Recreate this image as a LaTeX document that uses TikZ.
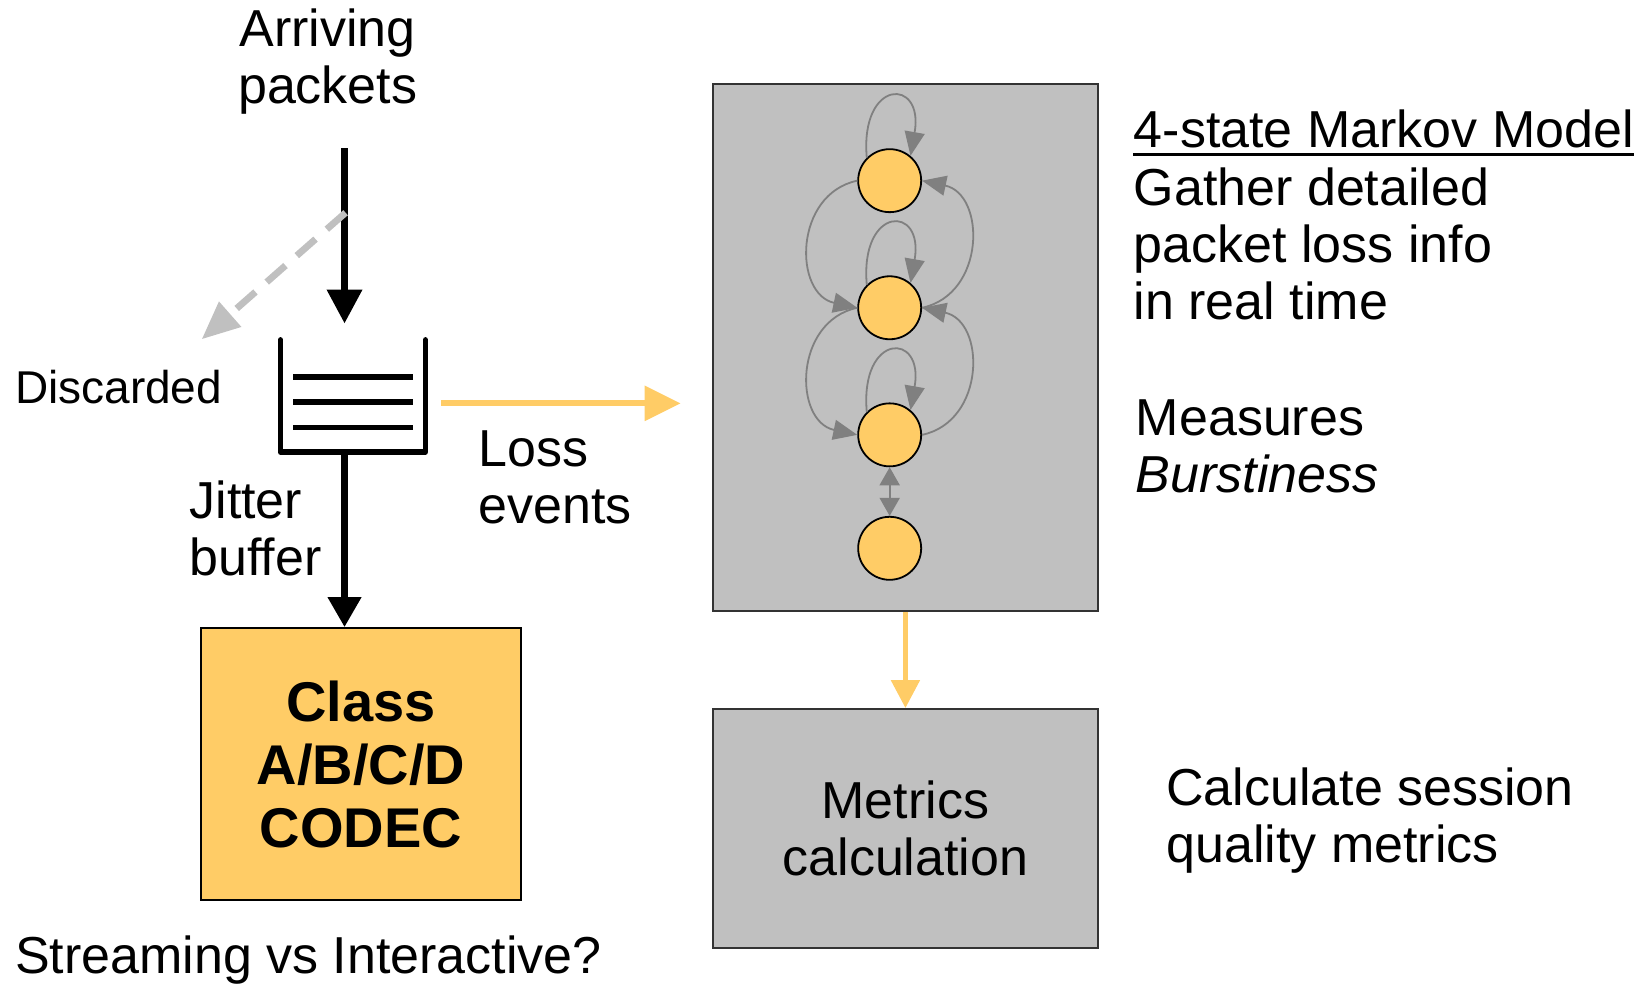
\documentclass[tikz,border=0pt]{standalone}
\usepackage{fontspec}
\setmainfont{Liberation Sans}
\usepackage{xcolor}
\definecolor{vizCodec}{HTML}{FFCC66}
\definecolor{vizPanel}{HTML}{C0C0C0}
\definecolor{vizEdge}{HTML}{808080}
\usetikzlibrary{arrows.meta}

\begin{document}
\begin{tikzpicture}[x=0.5252pt, y=0.5252pt,
  every node/.style={inner sep=0pt, font=\fontsize{26}{28.5}\selectfont},
  txt/.style={align=left, anchor=north west},
  panel/.style={draw=black!80, line width=1pt, fill=vizPanel},
  state/.style={circle, draw, line width=0.9pt, fill=vizCodec, minimum size=31.5pt},
  trans/.style={vizEdge, line width=0.9pt, -{Triangle[length=12pt,width=10pt]}},
  flow/.style={line width=3.5pt, -{Triangle[length=17pt,width=17pt]}},
  feed/.style={vizCodec, line width=3pt, -{Triangle[length=18pt,width=17pt]}},
  bucket/.style={line width=2.8pt, line join=round, line cap=round}]
  \useasboundingbox (0,0) rectangle (1568,-937);

  % arriving stream and jitter buffer
  \node[align=center, anchor=north] (arriving) at (312,-8) {Arriving\\packets};
  \coordinate (inlet) at (328,-141);
  \coordinate (inlettip) at (328,-308);
  \coordinate (drop) at (329,-202.5);
  \coordinate (dropend) at (192,-323);
  \node[txt, font=\fontsize{23}{26}\selectfont] (discarded) at (14,-352) {Discarded};
  \node[minimum width=72pt, minimum height=55.7pt] (buffer) at (336,-377) {};
  \node[txt] (jitter) at (180,-457) {Jitter\\buffer};
  \node[draw, line width=1pt, fill=vizCodec, minimum width=160.2pt, minimum height=136pt,
    align=center, font=\fontsize{28}{31.5}\selectfont\bfseries] (codec) at (343.5,-727.5) {Class\\A/B/C/D\\CODEC};
  \node[txt] (streaming) at (14,-891) {Streaming vs Interactive?};

  \draw[flow] (inlet) -- (inlettip);
  \draw[vizPanel, line width=3.4pt, dash pattern=on 12.5pt off 7.5pt,
    -{Triangle[length=19pt,width=16pt]}] (drop) -- (dropend);
  \draw[bucket] (buffer.north west) -- (buffer.south west) -- (buffer.south east) -- (buffer.north east);
  \foreach \y in {359,383,407}
    \draw[line width=2.8pt] (279,-\y) -- (393.5,-\y);
  \draw[flow, -{Triangle[length=15pt,width=16pt]}] (buffer.south -| inlet) -- (codec.north -| inlet);

  % loss events feed the model
  \coordinate (lossfrom) at (420,-384);
  \coordinate (lossto) at (648,-384);
  \draw[feed] (lossfrom) -- (lossto);
  \node[txt] (loss) at (455,-410) {Loss\\events};

  \node[panel, minimum width=192.2pt, minimum height=263.7pt] (markov) at (862,-331) {};
  \node[state] (s1) at (847,-172) {};
  \node[state] (s2) at (847,-293) {};
  \node[state] (s3) at (847,-414) {};
  \node[state] (s4) at (847,-522) {};
  \foreach \s in {s1,s2,s3}
    \draw[trans] (\s.135) to[out=95, in=80, distance=40pt] (\s.50);
  \draw[trans] (s1.west) to[out=192, in=168, distance=32.6pt] (s2.west);
  \draw[trans] (s2.west) to[out=192, in=168, distance=32.6pt] (s3.west);
  \draw[trans] (s2.east) to[out=12, in=-12, distance=32.6pt] (s1.east);
  \draw[trans] (s3.east) to[out=12, in=-12, distance=32.6pt] (s2.east);
  \draw[trans, {Triangle[length=9pt,width=10pt]}-{Triangle[length=9pt,width=10pt]}] (s3) -- (s4);

  \node[panel, minimum width=192.2pt, minimum height=119.7pt, align=center] (metrics) at (862,-789) {Metrics\\calculation};
  \draw[feed, line width=2.6pt, -{Triangle[length=14pt,width=14pt]}] (markov.south) -- (metrics.north);

  % notes on the right
  \node[txt] (modeltitle) at (1079,-104) {4-state Markov Model};
  \draw[line width=1.4pt] ([yshift=-3.2pt]modeltitle.south west) -- ([yshift=-3.2pt]modeltitle.south east);
  \node[txt] (gather) at (1079,-159) {Gather detailed\\packet loss info\\in real time};
  \node[txt] (measures) at (1081,-380) {Measures\\\itshape Burstiness};
  \node[txt] (session) at (1110,-731) {Calculate session\\quality metrics};
\end{tikzpicture}
\end{document}
